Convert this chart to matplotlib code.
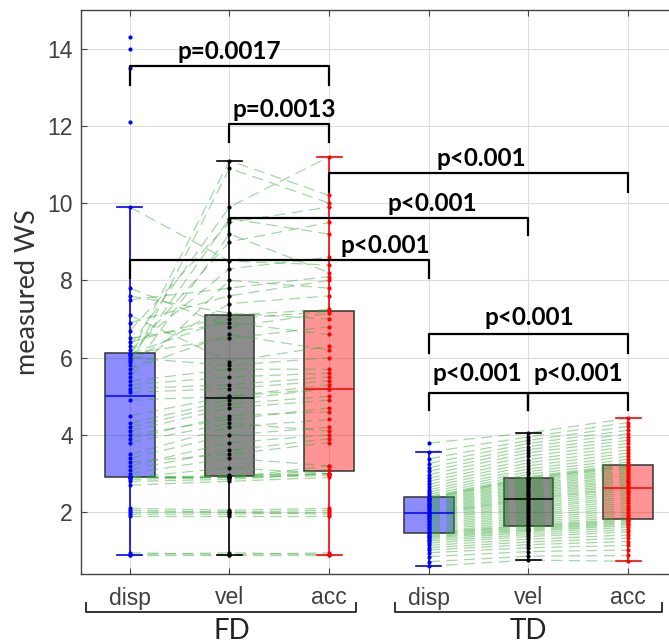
#!/usr/bin/env python3
"""Measured WS for disp / vel / acc excitation, FD vs TD.

Paired boxplots: every subject is a dot in each condition, joined across the
three conditions of its group by a dashed green trace, with the pairwise
significance brackets drawn above.
"""

import matplotlib.pyplot as plt
import numpy as np
from matplotlib.transforms import blended_transform_factory

CONDITIONS = ["disp", "vel", "acc"]
GROUPS = ["FD", "TD"]

# FD subjects, one entry per subject (nan = condition not recorded)
FD_DISP = [0.9, 0.9, 0.95, 1.9, 1.95, 2.0, 2.05, 2.1, 2.7, 2.8,
           2.85, 2.9, 2.9, 2.9, 2.9, 2.9, 3.0, 3.1, 3.2, 3.3,
           3.4, 3.5, 3.8, 3.9, 4.0, 4.1, 4.2, 4.3, 4.5, 4.9,
           5.1, 5.2, 5.3, 5.4, 5.5, 5.6, 5.7, 5.8, 5.9, 5.95,
           6.0, 6.05, 6.1, 6.1, 6.1, 6.2, 6.3, 6.4, 6.5, 6.7,
           6.9, 7.1, 7.5, 7.6, 7.8, 9.9, 12.1, 13.5, 14.0, 14.3]
FD_VEL = [0.9, 0.95, 0.9, 1.9, 1.95, 2.0, 2.0, 2.05, 2.8, 2.85,
          2.9, 2.95, 2.9, 2.9, 2.9, 3.15, 3.4, 3.6, 3.8, 3.5,
          4.0, 4.2, 4.3, 4.5, 4.4, 4.7, 4.8, 4.9, 5.0, 5.0,
          5.2, 5.3, 5.5, 5.7, 8.0, 9.2, 6.6, 10.9, 7.4, 9.6,
          5.8, 11.1, 7.0, 9.0, 6.5, 8.3, 9.9, 7.1, 6.9, 9.5,
          7.6, 5.9, 7.8, 7.15, 6.8, 8.5, np.nan, np.nan, np.nan, np.nan]
FD_ACC = [0.9, 0.9, 0.95, 1.9, 2.0, 1.95, 2.05, 2.1, 2.9, 3.0,
          2.95, 3.0, 3.0, 3.1, 3.2, 3.0, 3.2, 3.9, 4.0, 3.8,
          4.2, 4.4, 4.1, 4.6, 4.7, 4.9, 5.0, 5.2, 5.3, 5.2,
          5.4, 5.5, 5.6, 5.7, 7.8, 8.2, 6.2, 10.0, 7.6, 9.2,
          6.0, 10.2, 7.2, 9.5, 6.8, 8.6, 11.2, 7.25, 6.6, 9.9,
          8.0, 6.3, 8.1, 7.0, 7.15, 8.4, np.nan, np.nan, np.nan, np.nan]

# TD subjects
TD_DISP = [0.60, 0.72, 0.85, 0.95, 1.02, 1.08, 1.14, 1.20, 1.25, 1.29,
           1.33, 1.36, 1.39, 1.42, 1.45, 1.47, 1.50, 1.54, 1.58, 1.62,
           1.66, 1.70, 1.74, 1.78, 1.82, 1.85, 1.88, 1.91, 1.94, 1.96,
           1.98, 2.01, 2.04, 2.07, 2.10, 2.13, 2.16, 2.19, 2.22, 2.25,
           2.28, 2.31, 2.34, 2.36, 2.38, 2.41, 2.46, 2.52, 2.58, 2.65,
           2.72, 2.80, 2.88, 2.97, 3.06, 3.15, 3.26, 3.38, 3.55, 3.79]
TD_VEL = [0.76, 0.86, 0.98, 1.08, 1.16, 1.23, 1.30, 1.37, 1.42, 1.47,
          1.51, 1.54, 1.57, 1.60, 1.63, 1.66, 1.70, 1.75, 1.80, 1.85,
          1.90, 1.95, 2.00, 2.05, 2.10, 2.14, 2.19, 2.24, 2.29, 2.33,
          2.36, 2.40, 2.44, 2.48, 2.52, 2.56, 2.60, 2.64, 2.68, 2.72,
          2.76, 2.80, 2.84, 2.87, 2.89, 2.92, 2.98, 3.05, 3.12, 3.20,
          3.28, 3.36, 3.45, 3.54, 3.62, 3.70, 3.78, 3.86, 3.95, 4.05]
TD_ACC = [0.73, 0.88, 1.02, 1.14, 1.24, 1.33, 1.41, 1.49, 1.55, 1.61,
          1.66, 1.70, 1.73, 1.76, 1.79, 1.82, 1.87, 1.93, 1.99, 2.05,
          2.11, 2.17, 2.23, 2.29, 2.35, 2.40, 2.46, 2.51, 2.56, 2.61,
          2.64, 2.69, 2.73, 2.78, 2.82, 2.86, 2.91, 2.95, 3.00, 3.04,
          3.08, 3.12, 3.16, 3.19, 3.21, 3.24, 3.30, 3.37, 3.45, 3.53,
          3.61, 3.70, 3.78, 3.86, 3.94, 4.03, 4.12, 4.22, 4.32, 4.43]

# pairwise tests: (left box, right box, label)
COMPARISONS = [
    (1, 3, "p=0.0017"),
    (2, 3, "p=0.0013"),
    (3, 6, "p<0.001"),
    (2, 5, "p<0.001"),
    (1, 4, "p<0.001"),
    (4, 6, "p<0.001"),
    (4, 5, "p<0.001"),
    (5, 6, "p<0.001"),
]

# bracket layout per comparison: (bar y, leg bottom y, label x, label y)
BRACKET_LAYOUT = [
    (13.56, 13.05, 2.00, 13.62),
    (12.05, 11.58, 2.55, 12.13),
    (10.79, 10.30, 4.53, 10.87),
    (9.62, 9.18, 4.04, 9.70),
    (8.53, 8.06, 3.56, 8.61),
    (6.61, 6.12, 5.01, 6.74),
    (5.08, 4.64, 4.49, 5.30),
    (5.08, 4.64, 5.50, 5.30),
]

COND_COLORS = ["#0000ff", "#000000", "#ff0000"]
BOX_FILLS = [(0.0, 0.0, 1.0, 0.45), (0.0, 0.0, 0.0, 0.45), (1.0, 0.0, 0.0, 0.42)]
TRACE_COLOR = (0.2, 0.66, 0.2)
TICK_GRAY = "#404040"

LABEL_FONT = "Lato"
TICK_FONT = "Liberation Sans"


def draw_group(ax, x0, disp, vel, acc):
    cols = np.array([disp, vel, acc], dtype=float)
    xs = np.arange(3) + x0
    # subject traces first, dots on top of them
    for k in range(cols.shape[1]):
        ax.plot(xs, cols[:, k], color=TRACE_COLOR, alpha=0.45, lw=0.9,
                linestyle=(0, (9, 5)), zorder=3)
    for j in range(3):
        v = cols[j][~np.isnan(cols[j])]
        ax.plot(np.full(v.size, xs[j]), v, "o", ms=3.0, mew=0,
                color=COND_COLORS[j], zorder=4)


def draw_boxes(ax, columns):
    data = [np.asarray(c, dtype=float) for c in columns]
    data = [c[~np.isnan(c)] for c in data]
    bp = ax.boxplot(data, positions=np.arange(1, len(data) + 1), widths=0.5,
                    patch_artist=True, showfliers=False, whis=1.5)
    for i, box in enumerate(bp["boxes"]):
        c = i % 3
        box.set_facecolor(BOX_FILLS[c])
        box.set_edgecolor("#333333")
        box.set_linewidth(1.1)
        box.set_zorder(2)
        bp["medians"][i].set(color=COND_COLORS[c], lw=1.1, zorder=5)
        for line in bp["whiskers"][2 * i:2 * i + 2] + bp["caps"][2 * i:2 * i + 2]:
            line.set(color=COND_COLORS[c], lw=1.2, zorder=4)


def draw_bracket(ax, x1, x2, y, y_leg, label, tx, ty):
    ax.plot([x1, x1, x2, x2], [y_leg, y, y, y_leg], color="black", lw=1.6,
            solid_joinstyle="round", zorder=6)
    ax.text(tx, ty, label, ha="center", va="bottom", fontsize=17.5,
            fontweight="bold", family=LABEL_FONT, color="black", zorder=7)


def main():
    fig = plt.figure(figsize=(6.69, 6.43), dpi=100)
    ax = fig.add_axes([81 / 669, 69 / 643, 588 / 669, 564 / 643])

    draw_boxes(ax, [FD_DISP, FD_VEL, FD_ACC, TD_DISP, TD_VEL, TD_ACC])
    draw_group(ax, 1, FD_DISP, FD_VEL, FD_ACC)
    draw_group(ax, 4, TD_DISP, TD_VEL, TD_ACC)

    for (x1, x2, label), (y, y_leg, tx, ty) in zip(COMPARISONS, BRACKET_LAYOUT):
        draw_bracket(ax, x1, x2, y, y_leg, label, tx, ty)

    ax.set_xlim(0.51, 6.41)
    ax.set_ylim(0.4, 15)
    ax.set_yticks(np.arange(2, 15, 2))
    ax.set_xticks(np.arange(1, 7))
    ax.set_xticklabels(CONDITIONS * len(GROUPS))
    ax.grid(True, color="#dedede", lw=0.8)
    ax.set_axisbelow(True)

    for side in ("left", "bottom", "top"):
        ax.spines[side].set_color("#444444")
        ax.spines[side].set_linewidth(1.0)
    ax.spines["right"].set_visible(False)
    ax.tick_params(direction="in", length=4, top=True, right=False,
                   color="#444444", labelcolor=TICK_GRAY, labelsize=16.5)
    ax.tick_params(axis="x", pad=9)
    ax.tick_params(axis="y", pad=6)
    for lab in ax.get_xticklabels() + ax.get_yticklabels():
        lab.set_family(TICK_FONT)

    ax.set_ylabel("measured WS", fontsize=19.5, family=LABEL_FONT, color="#333333",
                  labelpad=5)

    # group brackets under the condition labels
    trans = blended_transform_factory(ax.transData, ax.transAxes)
    for (xa, xb, xc), name in zip([(0.56, 3.27, 2.02), (3.66, 6.34, 5.0)], GROUPS):
        ax.plot([xa, xa, xb, xb], [-0.052, -0.068, -0.068, -0.052], color="#333333",
                lw=1.4, transform=trans, clip_on=False)
        ax.text(xc, -0.101, name, ha="center", va="center", fontsize=20,
                family=LABEL_FONT, color="#222222", transform=trans)

    fig.savefig("out.png", dpi=100)


if __name__ == "__main__":
    main()
